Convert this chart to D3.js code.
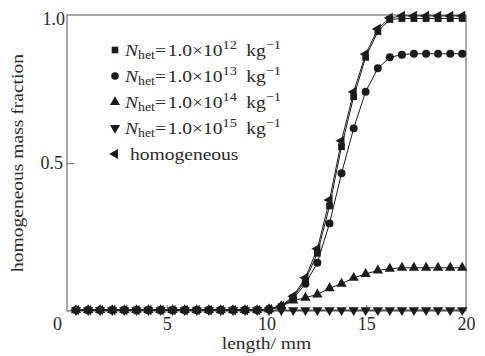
<!DOCTYPE html>
<html>
<head>
<meta charset="utf-8">
<script src="https://cdn.jsdelivr.net/npm/d3@7"></script>
<style>
  html, body { margin: 0; padding: 0; background: #fff; }
  svg { display: block; }
  text { font-family: "Liberation Serif", "Times New Roman", serif; fill: #2a2a2a; }
</style>
</head>
<body>
<svg id="chart" width="485" height="356"></svg>
<script>
// Axial positions along the channel (mm)
const lengthMm = [0.45, 1.06, 1.66, 2.27, 2.87, 3.48, 4.08, 4.69, 5.29, 5.90, 6.50,
  7.11, 7.71, 8.32, 8.92, 9.53, 10.13, 10.74, 11.34, 11.95, 12.55, 13.16, 13.76,
  14.37, 14.97, 15.58, 16.18, 16.79, 17.39, 18.00, 18.60, 19.21, 19.81];

// Homogeneous mass fraction for each heterogeneous nucleus density
const het12 = [0.003, 0.003, 0.003, 0.003, 0.003, 0.003, 0.003, 0.003, 0.003, 0.003, 0.003,
  0.003, 0.003, 0.003, 0.003, 0.003, 0.006, 0.015, 0.046, 0.103, 0.195, 0.355, 0.555,
  0.724, 0.857, 0.944, 0.985, 0.988, 0.988, 0.988, 0.988, 0.988, 0.988];
const het13 = [0.003, 0.003, 0.003, 0.003, 0.003, 0.003, 0.003, 0.003, 0.003, 0.003, 0.003,
  0.003, 0.003, 0.003, 0.003, 0.003, 0.006, 0.014, 0.042, 0.092, 0.163, 0.296, 0.465,
  0.617, 0.741, 0.820, 0.857, 0.866, 0.869, 0.869, 0.869, 0.869, 0.869];
const het14 = [0.003, 0.003, 0.003, 0.003, 0.003, 0.003, 0.003, 0.003, 0.003, 0.003, 0.003,
  0.003, 0.003, 0.003, 0.003, 0.003, 0.006, 0.016, 0.035, 0.045, 0.056, 0.077, 0.092,
  0.112, 0.125, 0.137, 0.143, 0.146, 0.146, 0.146, 0.146, 0.146, 0.146];
const het15 = [0.003, 0.003, 0.003, 0.003, 0.003, 0.003, 0.003, 0.003, 0.003, 0.003, 0.003,
  0.003, 0.003, 0.003, 0.003, 0.003, 0.003, 0.003, 0.003, 0.003, 0.003, 0.003, 0.003,
  0.003, 0.003, 0.003, 0.003, 0.003, 0.003, 0.003, 0.003, 0.003, 0.003];
const homogeneous = [0.003, 0.003, 0.003, 0.003, 0.003, 0.003, 0.003, 0.003, 0.003, 0.003, 0.003,
  0.003, 0.003, 0.003, 0.003, 0.003, 0.006, 0.016, 0.050, 0.112, 0.210, 0.375, 0.575,
  0.740, 0.868, 0.953, 0.990, 0.997, 0.997, 0.997, 0.997, 0.997, 0.997];

// Legend exponents and tick values
const exponents = ["12", "13", "14", "15"];
const xTicks = [0, 5, 10, 15, 20];
const yTicks = [0.5, 1.0];

const series = [
  { values: het12, symbol: d3.symbolSquare, rotate: 0, exp: exponents[0] },
  { values: het13, symbol: d3.symbolCircle, rotate: 0, exp: exponents[1] },
  { values: het14, symbol: d3.symbolTriangle, rotate: 0, exp: exponents[2] },
  { values: het15, symbol: d3.symbolTriangle, rotate: 180, exp: exponents[3] },
  { values: homogeneous, symbol: d3.symbolTriangle, rotate: -90, exp: null }
];

const svg = d3.select("#chart");
const margin = { left: 67, right: 19, top: 15, bottom: 45 };
const W = 485, H = 356;
const x = d3.scaleLinear().domain([0, 20]).range([margin.left, W - margin.right]);
const y = d3.scaleLinear().domain([0, 1]).range([H - margin.bottom, margin.top]);
const ink = "#1c1c1c";
const frameColor = "#7a7a7a";
const stretch = 1.15;

// plot frame
svg.append("rect")
  .attr("x", x(0)).attr("y", y(1))
  .attr("width", x(20) - x(0)).attr("height", y(0) - y(1))
  .attr("fill", "none").attr("stroke", frameColor).attr("stroke-width", 1.3);

// axes with inward ticks
const xAxis = svg.append("g")
  .attr("transform", `translate(0,${y(0)})`)
  .call(d3.axisBottom(x).tickValues(xTicks).tickSizeInner(-6).tickSizeOuter(0)
    .tickPadding(6).tickFormat(d3.format("d")));
xAxis.select(".domain").remove();
xAxis.selectAll(".tick line").attr("stroke", frameColor).attr("stroke-width", 1.2)
  .filter(d => d === 0 || d === 20).remove();
xAxis.selectAll(".tick text").attr("font-size", 18).attr("fill", "#2a2a2a")
  .attr("font-family", "Liberation Serif, Times New Roman, serif")
  .attr("dx", d => d === 0 ? -10 : 0);

const yAxis = svg.append("g")
  .attr("transform", `translate(${x(0)},0)`)
  .call(d3.axisLeft(y).tickValues(yTicks).tickSizeInner(-7).tickSizeOuter(0)
    .tickPadding(4).tickFormat(d3.format(".1f")));
yAxis.select(".domain").remove();
yAxis.selectAll(".tick line").attr("stroke", frameColor).attr("stroke-width", 1.2)
  .filter(d => d === 1).remove();
yAxis.selectAll(".tick text").attr("font-size", 18).attr("fill", "#2a2a2a")
  .attr("font-family", "Liberation Serif, Times New Roman, serif")
  .attr("dy", d => d === 1 ? "0.55em" : "0.32em")
  .attr("dx", d => d === 1 ? 2 : 0);

// axis titles
svg.append("g").attr("transform", `translate(${(x(0) + x(20)) / 2},349) scale(${stretch},1)`)
  .append("text").attr("text-anchor", "middle").attr("font-size", 17).text("length/ mm");
svg.append("g").attr("transform", `translate(23,${(y(0) + y(1)) / 2}) rotate(-90) scale(${stretch},1)`)
  .append("text").attr("text-anchor", "middle").attr("font-size", 17)
  .text("homogeneous mass fraction");

// curves and markers
const line = d3.line().x((d, i) => x(lengthMm[i])).y(d => y(d));
const plot = svg.append("g");
series.forEach(s => {
  plot.append("path").datum(s.values)
    .attr("d", line).attr("fill", "none").attr("stroke", ink).attr("stroke-width", 1);
});
series.forEach(s => {
  const sym = d3.symbol().type(s.symbol).size(s.symbol === d3.symbolCircle ? 50 : 46);
  plot.selectAll(null).data(s.values).join("path")
    .attr("d", sym)
    .attr("transform", (d, i) => `translate(${x(lengthMm[i])},${y(d)}) rotate(${s.rotate})`)
    .attr("fill", ink);
});

// legend
const legend = svg.append("g");
series.forEach((s, i) => {
  const rowY = 50 + i * 26;
  legend.append("path")
    .attr("d", d3.symbol().type(s.symbol).size(s.symbol === d3.symbolCircle ? 46 : 44))
    .attr("transform", `translate(115,${rowY}) rotate(${s.rotate})`)
    .attr("fill", ink);
  const g = legend.append("g").attr("transform", `translate(${s.exp ? 125 : 130},${rowY + 6}) scale(${stretch},1)`);
  const t = g.append("text").attr("font-size", 17);
  if (s.exp) {
    t.append("tspan").attr("font-style", "italic").text("N");
    t.append("tspan").attr("font-size", 12).attr("dy", 3).text("het");
    t.append("tspan").attr("dy", -3).text("=");
    t.append("tspan").attr("dx", 1.5).text("1.0×10");
    t.append("tspan").attr("font-size", 12.5).attr("dy", -7).text(s.exp);
    t.append("tspan").attr("dy", 7).attr("dx", 8).text("kg");
    t.append("tspan").attr("font-size", 12.5).attr("dy", -7).text("−1");
  } else {
    t.text("homogeneous");
  }
});
</script>
</body>
</html>
